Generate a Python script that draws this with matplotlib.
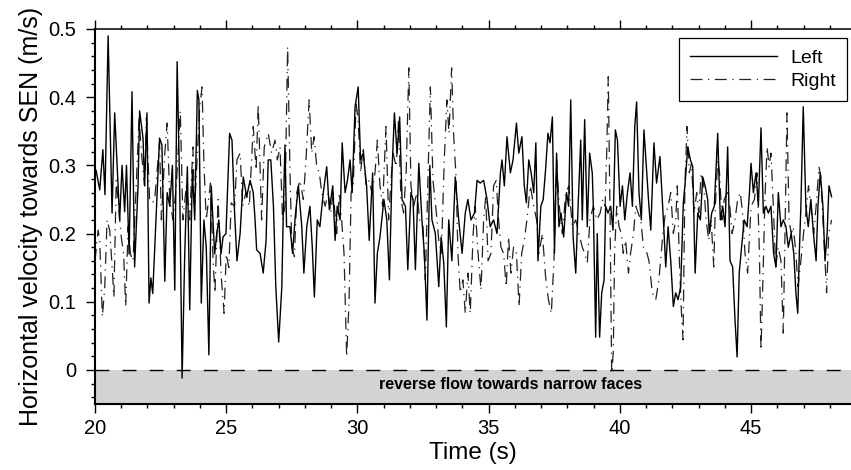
import numpy as np
import matplotlib
matplotlib.use("Agg")
import matplotlib.pyplot as plt
from matplotlib.ticker import MultipleLocator

plt.rcParams['font.family'] = ['Liberation Sans', 'DejaVu Sans']

# Left side velocity
leftTime = [20.0, 20.04, 20.18, 20.3, 20.38, 20.5, 20.65, 20.75, 20.84, 20.94,
            21.03, 21.13, 21.2, 21.3, 21.41, 21.51, 21.64, 21.7, 21.83, 21.89,
            21.98, 22.06, 22.13, 22.2, 22.3, 22.46, 22.55, 22.66, 22.75, 22.85,
            22.95, 23.04, 23.13, 23.23, 23.32, 23.42, 23.52, 23.61, 23.71, 23.8,
            23.9, 23.96, 24.05, 24.15, 24.24, 24.34, 24.43, 24.56, 24.64, 24.72,
            24.8, 24.88, 24.99, 25.13, 25.22, 25.32, 25.41, 25.53, 25.65, 25.78,
            25.91, 26.03, 26.1, 26.16, 26.29, 26.41, 26.52, 26.6, 26.7, 26.8,
            26.89, 27.0, 27.12, 27.18, 27.24, 27.3, 27.43, 27.53, 27.62, 27.75,
            27.88, 27.96, 28.07, 28.19, 28.28, 28.36, 28.47, 28.57, 28.7, 28.83,
            28.93, 29.06, 29.15, 29.23, 29.34, 29.42, 29.53, 29.62, 29.72, 29.8,
            29.91, 30.03, 30.12, 30.22, 30.35, 30.45, 30.58, 30.67, 30.76, 30.86,
            31.01, 31.12, 31.22, 31.32, 31.41, 31.51, 31.61, 31.7, 31.83, 31.92,
            32.04, 32.12, 32.21, 32.34, 32.46, 32.55, 32.65, 32.76, 32.84, 32.97,
            33.1, 33.19, 33.29, 33.39, 33.48, 33.6, 33.73, 33.86, 33.99, 34.11,
            34.21, 34.33, 34.46, 34.56, 34.68, 34.81, 34.94, 35.06, 35.19, 35.32,
            35.45, 35.51, 35.6, 35.7, 35.83, 35.93, 36.06, 36.15, 36.27, 36.36,
            36.44, 36.53, 36.62, 36.72, 36.8, 36.88, 36.99, 37.08, 37.17, 37.26,
            37.34, 37.43, 37.51, 37.59, 37.68, 37.76, 37.86, 37.97, 38.05, 38.13,
            38.22, 38.32, 38.41, 38.51, 38.57, 38.66, 38.76, 38.85, 38.95, 38.99,
            39.08, 39.14, 39.23, 39.31, 39.4, 39.46, 39.55, 39.65, 39.74, 39.83,
            39.91, 40.01, 40.1, 40.19, 40.29, 40.39, 40.48, 40.57, 40.64, 40.73,
            40.82, 40.92, 41.01, 41.11, 41.18, 41.3, 41.4, 41.53, 41.66, 41.75,
            41.84, 41.94, 42.04, 42.13, 42.22, 42.32, 42.42, 42.48, 42.59, 42.69,
            42.78, 42.87, 42.97, 43.07, 43.16, 43.25, 43.35, 43.41, 43.5, 43.6,
            43.73, 43.83, 43.92, 44.01, 44.11, 44.2, 44.3, 44.39, 44.47, 44.55,
            44.64, 44.74, 44.85, 44.94, 45.0, 45.09, 45.19, 45.28, 45.38, 45.47,
            45.57, 45.66, 45.76, 45.86, 45.95, 46.04, 46.14, 46.23, 46.33, 46.42,
            46.53, 46.63, 46.71, 46.78, 46.84, 46.9, 46.99, 47.09, 47.18, 47.28,
            47.38, 47.48, 47.55, 47.64, 47.74, 47.82, 47.9, 47.97, 48.07]
leftVel = [0.29, 0.293, 0.264, 0.323, 0.257, 0.49, 0.23, 0.377, 0.303, 0.22,
           0.30, 0.232, 0.30, 0.17, 0.408, 0.151, 0.27, 0.38, 0.34, 0.27,
           0.377, 0.098, 0.135, 0.112, 0.2, 0.34, 0.33, 0.13, 0.26, 0.24,
           0.3, 0.117, 0.452, 0.26, -0.012, 0.17, 0.298, 0.088, 0.293, 0.22,
           0.41, 0.396, 0.098, 0.22, 0.18, 0.022, 0.27, 0.17, 0.2, 0.22,
           0.17, 0.195, 0.2, 0.347, 0.337, 0.23, 0.16, 0.2, 0.283, 0.254,
           0.278, 0.26, 0.22, 0.176, 0.171, 0.142, 0.19, 0.308, 0.308, 0.24,
           0.122, 0.041, 0.122, 0.24, 0.33, 0.21, 0.21, 0.171, 0.22, 0.27,
           0.21, 0.142, 0.21, 0.24, 0.18, 0.107, 0.22, 0.21, 0.26, 0.298,
           0.235, 0.27, 0.19, 0.24, 0.22, 0.333, 0.26, 0.278, 0.308, 0.26,
           0.386, 0.415, 0.308, 0.318, 0.27, 0.19, 0.289, 0.098, 0.171, 0.195,
           0.25, 0.22, 0.132, 0.293, 0.377, 0.318, 0.371, 0.25, 0.24, 0.147,
           0.26, 0.25, 0.147, 0.303, 0.22, 0.171, 0.073, 0.3, 0.22, 0.2,
           0.122, 0.195, 0.157, 0.063, 0.22, 0.16, 0.283, 0.22, 0.171, 0.23,
           0.25, 0.22, 0.23, 0.278, 0.274, 0.278, 0.25, 0.21, 0.22, 0.2,
           0.289, 0.308, 0.27, 0.342, 0.289, 0.308, 0.362, 0.318, 0.342, 0.27,
           0.245, 0.308, 0.289, 0.26, 0.333, 0.16, 0.24, 0.25, 0.293, 0.347,
           0.333, 0.371, 0.171, 0.318, 0.21, 0.23, 0.195, 0.26, 0.24, 0.396,
           0.195, 0.142, 0.24, 0.337, 0.22, 0.367, 0.21, 0.318, 0.289, 0.24,
           0.048, 0.2, 0.048, 0.113, 0.132, 0.24, 0.23, 0.24, 0.205, 0.352,
           0.337, 0.24, 0.27, 0.22, 0.26, 0.289, 0.24, 0.357, 0.393, 0.26,
           0.22, 0.352, 0.298, 0.24, 0.205, 0.333, 0.274, 0.313, 0.22, 0.151,
           0.21, 0.16, 0.093, 0.113, 0.103, 0.122, 0.245, 0.27, 0.327, 0.308,
           0.298, 0.142, 0.23, 0.22, 0.283, 0.27, 0.25, 0.2, 0.23, 0.24,
           0.347, 0.22, 0.24, 0.21, 0.327, 0.16, 0.151, 0.073, 0.019, 0.142,
           0.18, 0.22, 0.21, 0.26, 0.303, 0.26, 0.289, 0.24, 0.355, 0.23,
           0.24, 0.23, 0.24, 0.171, 0.151, 0.26, 0.21, 0.22, 0.21, 0.18,
           0.2, 0.171, 0.113, 0.083, 0.171, 0.24, 0.386, 0.24, 0.21, 0.25,
           0.2, 0.16, 0.24, 0.289, 0.24, 0.16, 0.2, 0.27, 0.254]

# Right side velocity
rightTime = [20.0, 20.12, 20.18, 20.28, 20.37, 20.46, 20.56, 20.66, 20.72, 20.81,
             20.94, 21.0, 21.09, 21.17, 21.26, 21.35, 21.45, 21.58, 21.68, 21.77,
             21.89, 21.96, 22.08, 22.15, 22.27, 22.46, 22.53, 22.66, 22.75, 22.85,
             22.97, 23.1, 23.25, 23.35, 23.48, 23.61, 23.73, 23.8, 23.99, 24.08,
             24.15, 24.24, 24.4, 24.5, 24.57, 24.69, 24.81, 24.92, 25.0, 25.1,
             25.19, 25.32, 25.41, 25.53, 25.63, 25.75, 25.88, 26.03, 26.14, 26.22,
             26.35, 26.45, 26.6, 26.73, 26.86, 26.95, 27.05, 27.15, 27.24, 27.34,
             27.43, 27.5, 27.6, 27.69, 27.81, 27.94, 28.04, 28.16, 28.26, 28.35,
             28.45, 28.55, 28.64, 28.77, 28.89, 28.98, 29.08, 29.21, 29.31, 29.4,
             29.49, 29.59, 29.68, 29.76, 29.84, 29.95, 30.03, 30.12, 30.22, 30.33,
             30.45, 30.55, 30.67, 30.76, 30.86, 30.96, 31.09, 31.19, 31.28, 31.36,
             31.48, 31.57, 31.66, 31.76, 31.86, 31.96, 32.04, 32.14, 32.27, 32.37,
             32.5, 32.59, 32.68, 32.78, 32.88, 33.01, 33.1, 33.2, 33.31, 33.41,
             33.49, 33.59, 33.67, 33.76, 33.83, 33.92, 34.02, 34.11, 34.21, 34.3,
             34.41, 34.49, 34.58, 34.71, 34.81, 34.89, 34.98, 35.09, 35.19, 35.29,
             35.38, 35.47, 35.57, 35.67, 35.76, 35.85, 35.95, 36.06, 36.16, 36.26,
             36.36, 36.46, 36.59, 36.72, 36.83, 36.92, 37.05, 37.17, 37.28, 37.39,
             37.49, 37.59, 37.68, 37.81, 37.94, 38.06, 38.19, 38.32, 38.44, 38.57,
             38.66, 38.76, 38.86, 38.99, 39.12, 39.25, 39.35, 39.44, 39.5, 39.56,
             39.63, 39.69, 39.75, 39.8, 39.88, 39.97, 40.06, 40.13, 40.22, 40.33,
             40.41, 40.52, 40.61, 40.7, 40.8, 40.9, 41.0, 41.11, 41.24, 41.37,
             41.49, 41.62, 41.72, 41.84, 41.94, 42.04, 42.13, 42.19, 42.27, 42.35,
             42.41, 42.48, 42.56, 42.65, 42.73, 42.83, 42.93, 43.01, 43.1, 43.2,
             43.29, 43.39, 43.48, 43.58, 43.64, 43.73, 43.8, 43.89, 43.98, 44.09,
             44.19, 44.28, 44.39, 44.49, 44.59, 44.68, 44.77, 44.87, 45.0, 45.13,
             45.23, 45.32, 45.38, 45.46, 45.53, 45.61, 45.69, 45.76, 45.85, 45.94,
             46.04, 46.14, 46.23, 46.3, 46.37, 46.45, 46.53, 46.61, 46.71, 46.79,
             46.9, 47.0, 47.09, 47.19, 47.28, 47.39, 47.48, 47.59, 47.66, 47.74,
             47.83, 47.88, 47.96, 48.07]
rightVel = [0.16, 0.205, 0.19, 0.078, 0.12, 0.22, 0.205, 0.147, 0.107, 0.278,
            0.22, 0.195, 0.17, 0.093, 0.21, 0.17, 0.16, 0.278, 0.37, 0.318,
            0.27, 0.37, 0.25, 0.245, 0.248, 0.333, 0.22, 0.318, 0.362, 0.25,
            0.22, 0.27, 0.38, 0.22, 0.27, 0.22, 0.327, 0.24, 0.386, 0.415,
            0.303, 0.22, 0.274, 0.16, 0.113, 0.25, 0.137, 0.083, 0.17, 0.15,
            0.245, 0.24, 0.308, 0.318, 0.24, 0.26, 0.24, 0.357, 0.293, 0.39,
            0.22, 0.327, 0.347, 0.318, 0.337, 0.308, 0.327, 0.22, 0.24, 0.474,
            0.293, 0.18, 0.166, 0.26, 0.278, 0.25, 0.308, 0.396, 0.318, 0.342,
            0.298, 0.289, 0.26, 0.24, 0.26, 0.23, 0.26, 0.2, 0.26, 0.22,
            0.171, 0.019, 0.098, 0.26, 0.27, 0.39, 0.367, 0.289, 0.327, 0.27,
            0.278, 0.26, 0.289, 0.337, 0.27, 0.24, 0.357, 0.22, 0.278, 0.318,
            0.298, 0.367, 0.25, 0.23, 0.293, 0.443, 0.27, 0.24, 0.26, 0.22,
            0.21, 0.132, 0.27, 0.415, 0.278, 0.23, 0.19, 0.171, 0.308, 0.396,
            0.347, 0.443, 0.342, 0.283, 0.171, 0.113, 0.132, 0.083, 0.142, 0.083,
            0.2, 0.24, 0.18, 0.117, 0.22, 0.254, 0.16, 0.171, 0.27, 0.278,
            0.22, 0.18, 0.171, 0.122, 0.195, 0.142, 0.18, 0.171, 0.093, 0.171,
            0.19, 0.22, 0.27, 0.24, 0.22, 0.171, 0.2, 0.137, 0.103, 0.083,
            0.16, 0.308, 0.245, 0.2, 0.26, 0.27, 0.21, 0.22, 0.2, 0.18,
            0.171, 0.157, 0.22, 0.24, 0.22, 0.23, 0.25, 0.24, 0.318, 0.43,
            0.22, -0.005, 0.025, 0.171, 0.24, 0.21, 0.2, 0.171, 0.19, 0.142,
            0.171, 0.2, 0.24, 0.23, 0.22, 0.18, 0.176, 0.16, 0.113, 0.103,
            0.132, 0.19, 0.225, 0.24, 0.26, 0.2, 0.22, 0.27, 0.16, 0.083,
            0.044, 0.27, 0.357, 0.289, 0.303, 0.23, 0.26, 0.23, 0.289, 0.27,
            0.22, 0.19, 0.22, 0.151, 0.24, 0.308, 0.289, 0.22, 0.25, 0.26,
            0.24, 0.2, 0.22, 0.25, 0.26, 0.23, 0.171, 0.142, 0.24, 0.25,
            0.289, 0.171, 0.029, 0.142, 0.25, 0.327, 0.298, 0.318, 0.24, 0.151,
            0.18, 0.16, 0.054, 0.22, 0.377, 0.22, 0.2, 0.21, 0.171, 0.122,
            0.16, 0.2, 0.23, 0.27, 0.24, 0.2, 0.24, 0.298, 0.283, 0.22,
            0.151, 0.113, 0.2, 0.22]

fig = plt.figure(figsize=(8.51, 4.70), dpi=100)
ax = fig.add_axes([95 / 851, 66 / 470, 756 / 851, 375 / 470])

# reverse flow band and zero line
ax.axhspan(-0.05, 0, color="#d3d3d3", zorder=0, lw=0)
ax.axhline(0, color="black", lw=1, linestyle=(0, (10, 9.5)), zorder=1)
ax.text(35.83, -0.022, "reverse flow towards narrow faces", ha="center", va="center",
        fontsize=11.5, fontweight="bold")

ax.plot(leftTime, leftVel, color="black", lw=1.0, label="Left", zorder=3,
        solid_joinstyle="round")
ax.plot(rightTime, rightVel, color="#222222", lw=0.9, linestyle=(0, (9.5, 4.5, 1, 4.5)),
        label="Right", zorder=2)

ax.set_xlim(20, 48.81)
ax.set_ylim(-0.05, 0.5)
ax.xaxis.set_major_locator(MultipleLocator(5))
ax.xaxis.set_minor_locator(MultipleLocator(1))
ax.yaxis.set_minor_locator(MultipleLocator(0.02))
ax.set_yticks([0, 0.1, 0.2, 0.3, 0.4, 0.5])
ax.set_yticklabels(["0", "0.1", "0.2", "0.3", "0.4", "0.5"])
ax.tick_params(which="both", direction="out", top=True, right=False, labelsize=14.5, width=1)
ax.tick_params(which="major", length=6.5)
ax.tick_params(which="minor", length=3.2)
ax.tick_params(axis="y", pad=7)
ax.tick_params(axis="x", pad=4)

ax.spines["right"].set_visible(False)
ax.spines["left"].set_linewidth(1.5)
ax.spines["bottom"].set_linewidth(1.5)
ax.spines["top"].set_linewidth(1.1)

ax.set_xlabel("Time (s)", fontsize=17.5, labelpad=3)
ax.set_ylabel("Horizontal velocity towards SEN (m/s)", fontsize=18, labelpad=4)

leg = ax.legend(loc="upper right", bbox_to_anchor=(0.995, 0.975), borderaxespad=0,
                fontsize=14, handlelength=4.5, handletextpad=0.7, labelspacing=0.3,
                borderpad=0.55, fancybox=False, framealpha=1, edgecolor="black")
leg.get_frame().set_linewidth(0.9)

fig.savefig("out.png", dpi=100)
